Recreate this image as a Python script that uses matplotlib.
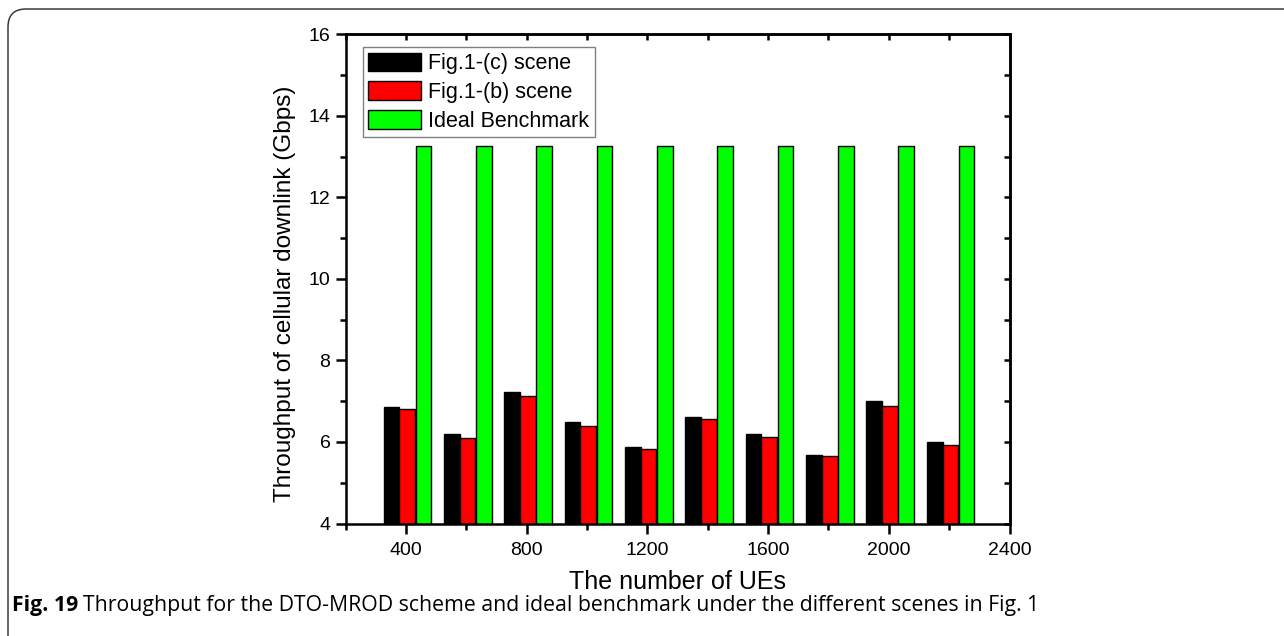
import matplotlib.pyplot as plt
import numpy as np
from matplotlib.patches import FancyBboxPatch
from matplotlib.ticker import MultipleLocator

# throughput per scene (Gbps)
ues = [400, 600, 800, 1000, 1200, 1400, 1600, 1800, 2000, 2200]
scene_c = [6.85, 6.20, 7.22, 6.49, 5.87, 6.62, 6.20, 5.68, 7.01, 5.99]
scene_b = [6.80, 6.09, 7.12, 6.39, 5.83, 6.57, 6.11, 5.66, 6.88, 5.92]
ideal = [13.27] * 10
labels = ["Fig.1-(c) scene", "Fig.1-(b) scene", "Ideal Benchmark"]

plt.rcParams['font.family'] = ['Liberation Sans', 'DejaVu Sans']

W, H = 1284, 636
fig = plt.figure(figsize=(W / 100, H / 100), dpi=100)

# rounded border around the figure panel
frame = FancyBboxPatch((8 / W, -0.1), 1.2, (H - 9) / H + 0.1,
                       boxstyle="round,pad=0,rounding_size=0.014",
                       transform=fig.transFigure, fill=False,
                       edgecolor='#3a3a3a', linewidth=1.1, mutation_aspect=W / H)
fig.patches.append(frame)

ax = fig.add_axes([345.7 / W, 112.5 / H, 663.8 / W, 489.2 / H])

x = np.array(ues)
w = 52
ax.bar(x - 48, scene_c, w, color='black', edgecolor='black', linewidth=1, label=labels[0])
ax.bar(x + 4, scene_b, w, color='#ff0000', edgecolor='black', linewidth=1, label=labels[1])
ax.bar(x + 58, ideal, w, color='#00ff00', edgecolor='black', linewidth=1, label=labels[2])

ax.set_xlim(200, 2400)
ax.set_ylim(4, 16)
ax.xaxis.set_major_locator(MultipleLocator(400))
ax.xaxis.set_minor_locator(MultipleLocator(200))
ax.yaxis.set_major_locator(MultipleLocator(2))
ax.yaxis.set_minor_locator(MultipleLocator(1))
ax.set_xticks([400, 800, 1200, 1600, 2000, 2400])

for s in ax.spines.values():
    s.set_linewidth(1.8)
ax.tick_params(which='major', direction='out', length=7, width=1.8, labelsize=14, pad=4)
ax.tick_params(axis='x', which='major', pad=6)
ax.tick_params(which='minor', direction='out', length=4, width=1.8)

# inward ticks on the top and right edges
top = ax.secondary_xaxis('top')
top.xaxis.set_major_locator(MultipleLocator(200))
top.tick_params(direction='in', length=4, width=1.8, labeltop=False)
top.spines['top'].set_linewidth(1.8)
right = ax.secondary_yaxis('right')
right.yaxis.set_major_locator(MultipleLocator(1))
right.tick_params(direction='in', length=4, width=1.8, labelright=False)
right.spines['right'].set_linewidth(1.8)

ax.set_xlabel("The number of UEs", fontsize=18, labelpad=8)
ax.set_ylabel("Throughput of cellular downlink (Gbps)", fontsize=17.5)
ax.yaxis.set_label_coords(-0.0914, 0.469)
ax.yaxis.label.set_va('center')

leg = ax.legend(loc='upper left', bbox_to_anchor=(0.0256, 0.9734), fontsize=15.5,
                frameon=True, fancybox=False, framealpha=1, edgecolor='#808080',
                handlelength=2.45, handleheight=0.95, labelspacing=0.33,
                handletextpad=0.35, borderpad=0.25, borderaxespad=0)
leg.get_frame().set_linewidth(1)

# caption under the chart
cap_y = 1 - 611 / H
t1 = fig.text(12 / W, cap_y, "Fig. 19", fontsize=15.3, fontweight='bold',
              family='Open Sans', va='baseline')
r = fig.canvas.get_renderer()
bb = t1.get_window_extent(renderer=r)
fig.text((bb.x1 + 5) / W, cap_y,
         "Throughput for the DTO-MROD scheme and ideal benchmark under the different scenes in Fig. 1",
         fontsize=15.3, family='Open Sans', va='baseline')

fig.savefig("out.png", dpi=100)
